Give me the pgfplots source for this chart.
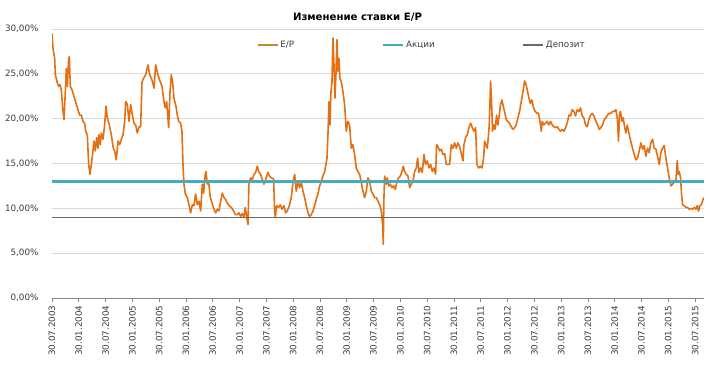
\documentclass[border=0pt]{standalone}
\usepackage{fontspec}
\setmainfont{DejaVu Sans}
\usepackage{pgfplots}
\pgfplotsset{compat=1.18}
\definecolor{ep}{RGB}{228,112,20}
\definecolor{eplegend}{RGB}{190,140,45}
\definecolor{akc}{RGB}{70,170,192}
\definecolor{dep}{RGB}{105,105,105}
\definecolor{gridc}{RGB}{217,217,217}
\definecolor{axc}{RGB}{134,134,134}
\definecolor{txt}{RGB}{60,60,60}
\begin{document}
\begin{tikzpicture}[x=1bp,y=1bp]
\useasboundingbox (0,0) rectangle (715,383);
\node[font=\fontsize{10.2}{12}\selectfont\bfseries, text=black] at (357.5,366) {Изменение ставки E/P};
\begin{axis}[
  at={(52bp,85bp)}, anchor=south west,
  width=652bp, height=269bp, scale only axis,
  xmin=0, xmax=146, ymin=0, ymax=30,
  axis x line*=bottom, axis y line*=left,
  x axis line style={draw=axc, line width=0.8bp, -},
  y axis line style={draw=none, -},
  /pgf/number format/assume math mode=true,
  xtick={0,6,...,144},
  xticklabels={30.07.2003,30.01.2004,30.07.2004,30.01.2005,30.07.2005,30.01.2006,30.07.2006,30.01.2007,30.07.2007,30.01.2008,30.07.2008,30.01.2009,30.07.2009,30.01.2010,30.07.2010,30.01.2011,30.07.2011,30.01.2012,30.07.2012,30.01.2013,30.07.2013,30.01.2014,30.07.2014,30.01.2015,30.07.2015},
  xtick style={draw=axc, line width=0.8bp},
  tick align=outside,
  major tick length=4bp,
  xticklabel style={rotate=90, anchor=east, font=\fontsize{8.8}{10}\selectfont, text=txt},
  ytick={0,5,...,30},
  yticklabels={{0,00\%},{5,00\%},{10,00\%},{15,00\%},{20,00\%},{25,00\%},{30,00\%}},
  ytick style={draw=none},
  yticklabel style={font=\fontsize{8.8}{10}\selectfont, text=txt, xshift=-6bp},
  ymajorgrids, grid style={draw=gridc, line width=0.8bp},
  legend columns=3,
  legend image code/.code={\draw[#1] (0bp,0bp) -- (20bp,0bp);},
  legend style={draw=none, fill=none, at={(0.3144,0.9405)}, anchor=west,
    font=\fontsize{8.8}{10}\selectfont, text=txt, inner sep=0pt,
    nodes={inner sep=2bp},
    /tikz/every even column/.append style={column sep=85.5bp}},
]
\addplot[draw=ep, line width=1.6bp, line join=round,
  legend image code/.code={\draw[draw=eplegend, line width=1.1bp] (0bp,0bp) -- (20bp,0bp);}]
coordinates {
(0.00,29.5)(0.22,27.9)(0.60,26.7)(0.75,24.9)(1.19,24.0)(1.49,23.6)(1.79,23.8)(2.09,23.2)(2.39,21.2)(2.69,19.9)
(2.98,23.0)(3.21,25.6)(3.43,23.6)(3.73,26.7)(3.88,26.9)(4.10,23.6)(4.48,23.2)(4.92,22.5)(5.45,21.6)(5.82,21.0)
(6.19,20.4)(6.57,20.4)(6.94,19.7)(7.31,19.5)(7.54,18.6)(7.91,18.2)(8.21,14.9)(8.51,13.8)(8.81,14.9)(9.18,16.4)
(9.40,17.5)(9.70,16.4)(10.00,17.9)(10.30,16.7)(10.52,18.2)(10.82,17.1)(11.04,18.4)(11.42,17.7)(11.79,19.3)(12.09,21.4)
(12.39,20.1)(12.84,19.3)(13.28,18.2)(13.73,16.7)(14.03,16.4)(14.40,15.4)(14.78,17.5)(15.15,17.1)(15.52,17.7)(15.90,18.2)
(16.27,19.7)(16.49,21.9)(16.87,21.6)(17.24,19.7)(17.61,21.6)(17.99,20.4)(18.36,19.5)(18.73,19.3)(19.10,18.4)(19.48,19.1)
(19.85,19.1)(20.15,24.1)(20.52,24.5)(20.97,24.9)(21.49,26.0)(21.87,24.9)(22.39,24.3)(22.84,23.4)(23.21,26.0)(23.73,24.9)
(24.10,24.3)(24.63,23.6)(25.07,21.9)(25.37,21.2)(25.67,21.9)(26.12,19.0)(26.42,23.0)(26.72,24.9)(27.01,24.1)(27.31,22.3)
(27.76,21.4)(28.06,20.4)(28.36,19.7)(28.80,19.5)(29.10,18.6)(29.33,14.9)(29.55,12.7)(29.85,11.6)(30.30,11.2)(30.67,10.4)
(31.04,9.5)(31.42,10.4)(31.79,10.3)(32.16,11.6)(32.54,10.4)(32.91,10.8)(33.28,9.7)(33.66,12.7)(33.95,11.7)(34.25,13.6)
(34.48,14.1)(34.78,12.7)(35.07,13.0)(35.45,11.2)(35.82,10.6)(36.27,9.9)(36.64,9.5)(37.01,9.9)(37.39,9.7)(37.76,10.8)
(38.13,11.7)(38.51,11.2)(38.88,11.0)(39.25,10.6)(39.63,10.3)(40.15,10.1)(40.67,9.7)(41.04,9.3)(41.49,9.3)(41.86,9.5)
(42.24,9.1)(42.61,9.4)(42.99,9.0)(43.28,10.1)(43.58,9.1)(43.88,8.2)(44.10,12.7)(44.48,13.4)(44.85,13.2)(45.22,13.8)
(45.60,14.0)(45.97,14.7)(46.34,14.0)(46.72,13.8)(47.09,13.2)(47.46,12.7)(47.84,13.2)(48.36,14.0)(48.73,13.6)(49.11,13.4)
(49.63,13.3)(49.85,9.7)(50.00,9.0)(50.30,10.3)(50.75,10.1)(51.12,10.4)(51.49,9.9)(51.94,10.3)(52.32,9.5)(52.69,9.7)
(53.14,10.3)(53.58,11.2)(53.96,12.9)(54.33,13.8)(54.70,11.9)(55.08,13.0)(55.45,12.3)(55.82,12.9)(56.20,11.9)(56.57,11.2)
(56.94,10.3)(57.32,9.5)(57.69,9.1)(58.06,9.3)(58.44,9.7)(58.81,10.3)(59.18,11.0)(59.55,11.6)(59.93,12.5)(60.30,13.0)
(60.67,13.6)(61.05,14.1)(61.35,14.9)(61.57,15.6)(61.79,18.2)(62.02,21.9)(62.24,19.3)(62.47,23.0)(62.69,24.1)(62.91,29.0)
(63.14,26.0)(63.36,22.3)(63.58,24.9)(63.81,28.8)(64.03,25.3)(64.26,26.7)(64.48,24.5)(64.78,24.1)(65.15,23.0)(65.52,21.6)
(65.90,18.6)(66.27,19.7)(66.64,19.3)(67.02,16.7)(67.39,17.1)(67.76,16.0)(68.14,14.5)(68.51,14.1)(68.88,13.8)(69.26,12.9)
(69.63,11.9)(70.00,11.2)(70.38,11.9)(70.75,13.4)(71.12,13.0)(71.50,11.9)(71.87,11.6)(72.24,11.2)(72.62,11.2)(72.99,10.8)
(73.36,10.4)(73.74,9.7)(74.03,8.2)(74.18,6.0)(74.33,11.2)(74.48,13.6)(74.86,12.7)(75.08,13.4)(75.38,12.5)(75.75,12.7)
(76.12,12.3)(76.50,12.5)(76.87,12.1)(77.24,13.0)(77.62,13.4)(77.99,13.6)(78.36,14.1)(78.66,14.7)(78.96,14.1)(79.33,13.8)
(79.71,13.6)(80.08,12.3)(80.45,12.7)(80.83,13.0)(81.20,14.1)(81.57,14.5)(81.87,15.6)(82.17,14.0)(82.54,14.5)(82.92,14.0)
(83.29,16.0)(83.66,14.9)(84.04,15.3)(84.41,14.5)(84.78,14.9)(85.16,14.1)(85.53,14.5)(85.90,13.8)(86.12,17.1)(86.42,16.9)
(86.80,16.4)(87.17,16.6)(87.54,16.0)(87.92,16.1)(88.29,14.9)(88.66,14.9)(89.04,14.9)(89.41,17.1)(89.78,16.7)(90.15,17.3)
(90.53,16.7)(90.90,17.3)(91.27,16.9)(91.65,16.1)(92.02,15.3)(92.24,17.1)(92.62,17.9)(92.99,18.2)(93.36,19.0)(93.74,19.5)
(94.11,19.0)(94.48,18.6)(94.86,19.0)(95.15,14.9)(95.53,14.5)(95.90,14.7)(96.27,14.5)(96.65,15.6)(96.87,17.5)(97.17,17.1)
(97.47,16.7)(97.69,17.9)(97.91,19.3)(98.21,24.2)(98.43,21.9)(98.65,18.6)(98.95,19.3)(99.25,18.8)(99.55,20.4)(99.85,19.3)
(100.15,20.4)(100.45,21.6)(100.74,22.1)(101.04,21.4)(101.34,20.8)(101.71,19.9)(102.09,19.7)(102.46,19.5)(102.83,19.1)(103.21,18.8)
(103.58,19.0)(103.95,19.3)(104.33,20.1)(104.70,20.8)(105.07,21.9)(105.45,23.0)(105.82,24.2)(106.04,24.0)(106.34,23.4)(106.71,22.5)
(107.09,21.7)(107.46,22.1)(107.83,21.2)(108.21,20.8)(108.58,20.6)(108.95,20.6)(109.33,19.5)(109.55,18.6)(109.77,19.7)(110.15,19.3)
(110.52,19.5)(110.89,19.7)(111.27,19.3)(111.64,19.7)(112.01,19.3)(112.39,19.1)(112.76,19.0)(113.13,19.1)(113.51,18.8)(113.88,18.6)
(114.25,18.8)(114.63,18.6)(115.00,19.0)(115.37,19.5)(115.75,20.4)(116.12,20.3)(116.49,21.0)(116.87,20.8)(117.24,20.3)(117.61,21.0)
(117.98,20.8)(118.36,21.2)(118.73,20.3)(119.10,20.1)(119.48,19.3)(119.85,19.1)(120.22,19.9)(120.60,20.4)(120.97,20.6)(121.34,20.3)
(121.79,19.7)(122.16,19.3)(122.54,18.8)(122.91,19.0)(123.28,19.3)(123.66,19.9)(124.03,20.1)(124.40,20.4)(124.78,20.6)(125.15,20.6)
(125.52,20.8)(125.89,20.8)(126.27,21.0)(126.57,20.1)(126.86,17.5)(127.09,20.6)(127.31,20.8)(127.61,19.7)(127.91,20.1)(128.21,19.1)
(128.51,18.4)(128.81,19.3)(129.10,18.6)(129.40,17.9)(129.70,17.3)(130.00,16.7)(130.37,16.0)(130.75,15.4)(131.12,15.6)(131.49,16.4)
(131.87,17.3)(132.24,16.6)(132.61,17.0)(132.98,15.8)(133.36,16.7)(133.73,16.2)(134.10,17.3)(134.48,17.7)(134.85,16.7)(135.22,16.6)
(135.60,15.8)(135.97,14.9)(136.34,16.2)(136.72,16.7)(137.09,17.0)(137.46,15.6)(137.84,14.5)(138.21,13.4)(138.58,12.5)(138.96,12.7)
(139.33,12.9)(139.70,13.0)(140.00,15.3)(140.22,13.8)(140.45,14.1)(140.75,13.4)(140.97,11.6)(141.19,10.4)(141.57,10.3)(141.94,10.1)
(142.31,10.1)(142.69,9.9)(143.06,10.0)(143.43,9.9)(143.81,10.1)(144.18,9.9)(144.48,10.3)(144.78,9.7)(145.07,10.3)(145.37,10.4)
(145.67,10.8)(145.90,11.2)
};
\addlegendentry{E/P}
\addplot[draw=akc, line width=2.6bp] coordinates {(0,13.0)(146,13.0)};
\addlegendentry{Акции}
\addplot[draw=dep, line width=1.6bp] coordinates {(0,9.0)(146,9.0)};
\addlegendentry{Депозит}
\end{axis}
\end{tikzpicture}
\end{document}
